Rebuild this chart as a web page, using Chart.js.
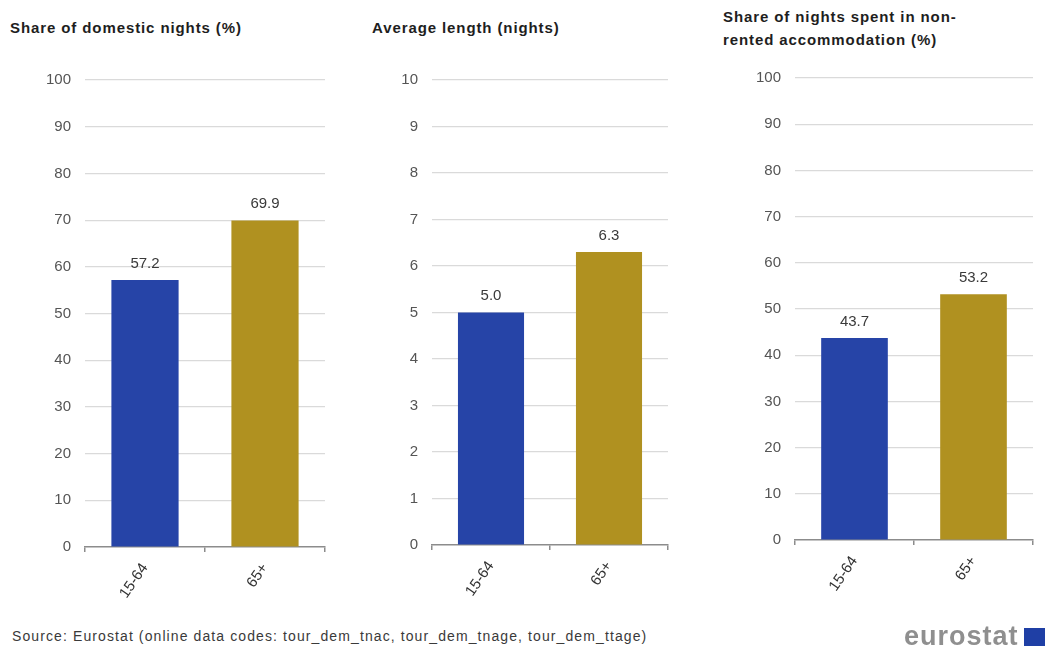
<!DOCTYPE html>
<html>
<head>
<meta charset="utf-8">
<script src="https://cdn.jsdelivr.net/npm/chart.js@4.4.1/dist/chart.umd.min.js"></script>
<style>
  html, body { margin: 0; padding: 0; background: #fff; }
  body { width: 1045px; height: 652px; position: relative; overflow: hidden;
         font-family: "Liberation Sans", Arial, sans-serif; }
  .title { position: absolute; font-weight: bold; font-size: 15px; letter-spacing: 0.9px;
           color: #1e1e1e; line-height: 23px; white-space: nowrap; }
  canvas { position: absolute; }
  .source { position: absolute; left: 12px; top: 628px; font-size: 14px; letter-spacing: 1.1px;
            color: #3a3a3a; white-space: nowrap; }
  .logo { position: absolute; left: 904px; top: 621px; font-size: 27px; font-weight: bold; color: #8f8f8f;
          letter-spacing: 1px; line-height: 30px; }
  .flag { position: absolute; left: 1024px; top: 628px; width: 21px; height: 18px; background: #1f3fa5; }
</style>
</head>
<body>
<div class="title" style="left:10px; top:16px;">Share of domestic nights (%)</div>
<div class="title" style="left:372px; top:16px;">Average length (nights)</div>
<div class="title" style="left:723px; top:5px;">Share of nights spent in non-<br>rented accommodation (%)</div>

<canvas id="c1"></canvas>
<canvas id="c2"></canvas>
<canvas id="c3"></canvas>

<div class="source">Source: Eurostat (online data codes: tour_dem_tnac, tour_dem_tnage, tour_dem_ttage)</div>
<div class="logo">eurostat</div>
<div class="flag"></div>

<script>
// Age groups shown on every panel
const ageGroups = ['15-64', '65+'];

// Panel values
const domesticShare = [57.2, 69.9];   // share of domestic nights (%)
const averageLength = [5.0, 6.3];     // average trip length (nights)
const nonRentedShare = [43.7, 53.2];  // share of nights in non-rented accommodation (%)

// Axis ranges
const percentAxis = { max: 100, step: 10 };
const nightsAxis = { max: 10, step: 1 };

const barColours = ['#2644A7', '#B09120'];
const FONT = '"Liberation Sans", Arial, sans-serif';

// Writes the value above each bar
const valueLabels = {
  id: 'valueLabels',
  afterDatasetsDraw(chart) {
    const ctx = chart.ctx;
    const meta = chart.getDatasetMeta(0);
    const values = chart.data.datasets[0].data;
    ctx.save();
    ctx.font = '15px ' + FONT;
    ctx.fillStyle = '#3a3a3a';
    ctx.textAlign = 'center';
    ctx.textBaseline = 'bottom';
    meta.data.forEach((bar, i) => {
      ctx.fillText(values[i].toFixed(1), bar.x, bar.y - 9);
    });
    ctx.restore();
  }
};

function makePanel(id, box, area, values, axis) {
  const canvas = document.getElementById(id);
  canvas.width = box.w;
  canvas.height = box.h;
  canvas.style.left = box.x + 'px';
  canvas.style.top = box.y + 'px';
  canvas.style.width = box.w + 'px';
  canvas.style.height = box.h + 'px';

  return new Chart(canvas, {
    type: 'bar',
    data: {
      labels: ageGroups,
      datasets: [{
        data: values,
        backgroundColor: barColours,
        borderWidth: 0,
        categoryPercentage: 1,
        barPercentage: 0.56
      }]
    },
    options: {
      responsive: false,
      animation: false,
      devicePixelRatio: 1,
      layout: {
        padding: {
          left: 0,
          top: area.top - box.y,
          right: box.x + box.w - area.right,
          bottom: 0
        }
      },
      plugins: { legend: { display: false }, tooltip: { enabled: false }, title: { display: false } },
      scales: {
        x: {
          offset: true,
          grid: { display: true, drawOnChartArea: false, drawTicks: true, tickLength: 5,
                  color: '#8c8c8c', lineWidth: 1.5, offset: true },
          border: { display: true, color: '#8c8c8c', width: 1.5 },
          ticks: { maxRotation: 55, minRotation: 55, padding: 8, color: '#333',
                   font: { family: FONT, size: 15 } },
          afterFit(scale) { scale.height = box.y + box.h - area.bottom; }
        },
        y: {
          min: 0,
          max: axis.max,
          grid: { drawTicks: false, lineWidth: 1.2,
                  color: (c) => (c.tick && c.tick.value === 0) ? 'rgba(0,0,0,0)' : '#dadada' },
          border: { display: false },
          ticks: { stepSize: axis.step, padding: 14, color: '#555',
                   font: { family: FONT, size: 15 } },
          afterFit(scale) { scale.width = area.left - box.x; }
        }
      }
    },
    plugins: [valueLabels]
  });
}

makePanel('c1', { x: 0, y: 55, w: 345, h: 570 },
          { left: 85, right: 325, top: 80, bottom: 547 }, domesticShare, percentAxis);
makePanel('c2', { x: 350, y: 55, w: 345, h: 570 },
          { left: 432, right: 668, top: 80, bottom: 545 }, averageLength, nightsAxis);
makePanel('c3', { x: 705, y: 55, w: 340, h: 570 },
          { left: 795, right: 1033, top: 78, bottom: 540 }, nonRentedShare, percentAxis);
</script>
</body>
</html>
